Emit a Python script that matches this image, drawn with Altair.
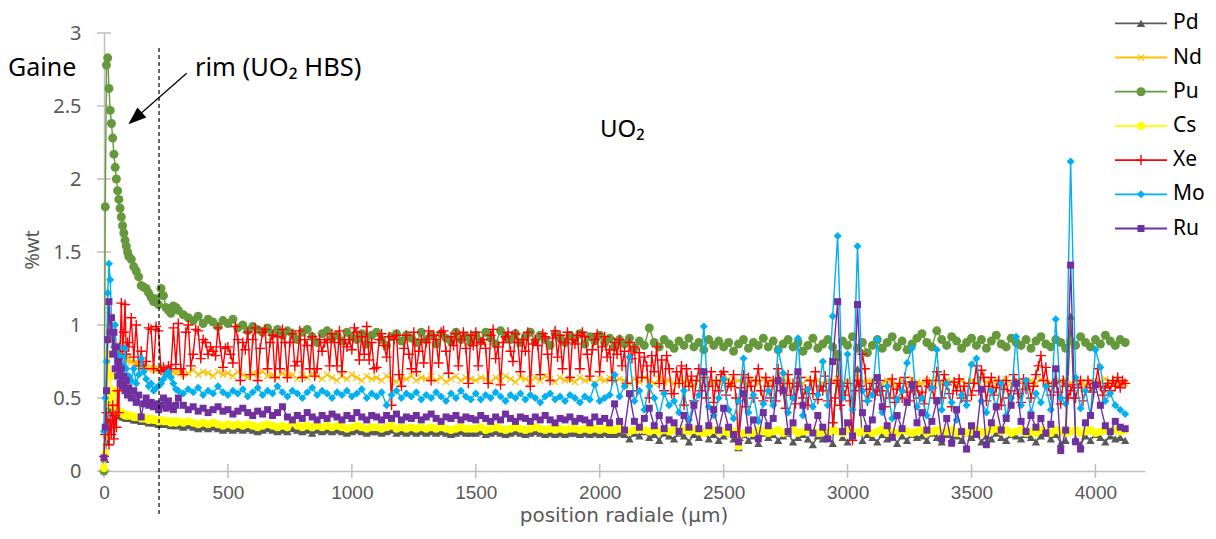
import altair as alt
import pandas as pd

# ---------------- data ----------------
names = ["Pd", "Nd", "Pu", "Cs", "Xe", "Mo", "Ru"]
colors = ["#595959", "#FFC000", "#66993C", "#FFFF00", "#FF0000", "#00B0F0", "#7030A0"]

# sampling positions (µm): 0-95 step 5, 100-290 step 10, then from 300 with a regular step
pos_a = list(range(0, 100, 5))
pos_b = list(range(100, 300, 10))
pos_c_start = 300
steps = {"Pd": 20, "Nd": 20, "Pu": 20, "Cs": 20, "Xe": 10, "Mo": 20, "Ru": 20}

pd_vals = [
    0.02, 0.08, 0.20, 0.35, 0.50, 0.45, 0.42, 0.40, 0.45, 0.40, 0.40, 0.38, 0.39, 0.38, 0.38, 0.37, 0.37, 0.37, 0.36, 0.36,
    0.36, 0.36, 0.35, 0.35, 0.35, 0.34, 0.34, 0.34, 0.33, 0.34, 0.33, 0.33, 0.32, 0.33, 0.32, 0.32, 0.32, 0.31, 0.32, 0.31,
    0.31, 0.30, 0.31, 0.30, 0.29, 0.30, 0.29, 0.30, 0.29, 0.28,
    0.29, 0.28, 0.29, 0.28, 0.29, 0.28, 0.27, 0.28, 0.29, 0.28,
    0.27, 0.28, 0.27, 0.29, 0.28, 0.27, 0.28, 0.26, 0.28, 0.27,
    0.28, 0.27, 0.28, 0.27, 0.26, 0.27, 0.28, 0.27, 0.26, 0.27,
    0.27, 0.26, 0.27, 0.28, 0.26, 0.27, 0.26, 0.27, 0.26, 0.27,
    0.26, 0.27, 0.26, 0.27, 0.26, 0.25, 0.26, 0.27, 0.26, 0.26,
    0.26, 0.27, 0.25, 0.26, 0.27, 0.26, 0.25, 0.26, 0.27, 0.26,
    0.25, 0.26, 0.27, 0.26, 0.25, 0.26, 0.25, 0.26, 0.25, 0.26,
    0.26, 0.25, 0.26, 0.25, 0.26, 0.25, 0.26, 0.25, 0.25, 0.26,
    0.25, 0.22, 0.26, 0.24, 0.27, 0.23, 0.25, 0.21, 0.26, 0.24,
    0.22, 0.26, 0.24, 0.20, 0.25, 0.23, 0.27, 0.22, 0.25, 0.21,
    0.24, 0.26, 0.22, 0.16, 0.25, 0.21, 0.24, 0.19, 0.26, 0.23,
    0.25, 0.21, 0.24, 0.26, 0.20, 0.23, 0.25, 0.22, 0.18, 0.24,
    0.22, 0.25, 0.19, 0.78, 0.23, 0.20, 0.24, 0.70, 0.21, 0.25,
    0.23, 0.20, 0.25, 0.22, 0.26, 0.19, 0.24, 0.21, 0.25, 0.23,
    0.24, 0.21, 0.26, 0.23, 0.20, 0.25, 0.22, 0.24, 0.21, 0.26,
    0.23, 0.25, 0.20, 0.24, 0.22, 0.26, 0.23, 0.21, 0.25, 0.24,
    0.22, 0.25, 0.23, 0.20, 0.24, 0.26, 0.22, 0.25, 0.19, 0.21,
    1.06, 0.22, 0.18, 0.24, 0.21, 0.25, 0.23, 0.20, 0.24, 0.22,
    0.23, 0.21,
]

nd_vals = [
    0.05, 0.25, 0.55, 0.80, 1.10, 1.00, 0.95, 0.90, 0.88, 0.86, 0.84, 0.85, 0.82, 0.80, 0.81, 0.79, 0.78, 0.77, 0.76, 0.77,
    0.76, 0.75, 0.74, 0.74, 0.73, 0.72, 0.72, 0.71, 0.70, 0.71, 0.70, 0.69, 0.70, 0.69, 0.68, 0.69, 0.68, 0.67, 0.68, 0.67,
    0.68, 0.66, 0.67, 0.69, 0.66, 0.68, 0.67, 0.65, 0.68, 0.66,
    0.67, 0.65, 0.68, 0.66, 0.64, 0.67, 0.66, 0.68, 0.65, 0.66,
    0.64, 0.67, 0.65, 0.66, 0.63, 0.66, 0.64, 0.67, 0.65, 0.63,
    0.66, 0.64, 0.62, 0.65, 0.63, 0.66, 0.64, 0.62, 0.65, 0.63,
    0.64, 0.62, 0.65, 0.63, 0.61, 0.64, 0.63, 0.65, 0.62, 0.64,
    0.63, 0.65, 0.62, 0.64, 0.61, 0.63, 0.65, 0.62, 0.64, 0.63,
    0.62, 0.64, 0.63, 0.61, 0.64, 0.62, 0.65, 0.63, 0.61, 0.64,
    0.63, 0.61, 0.64, 0.62, 0.65, 0.63, 0.61, 0.64, 0.62, 0.63,
    0.61, 0.64, 0.62, 0.63, 0.60, 0.63, 0.62, 0.64, 0.61, 0.63,
    0.62, 0.60, 0.63, 0.61, 0.64, 0.62, 0.60, 0.63, 0.61, 0.62,
    0.60, 0.63, 0.61, 0.62, 0.59, 0.62, 0.64, 0.61, 0.60, 0.62,
    0.61, 0.63, 0.60, 0.62, 0.61, 0.59, 0.62, 0.60, 0.63, 0.61,
    0.62, 0.60, 0.63, 0.61, 0.59, 0.62, 0.60, 0.63, 0.61, 0.62,
    0.60, 0.62, 0.61, 0.63, 0.60, 0.62, 0.59, 0.64, 0.61, 0.62,
    0.61, 0.63, 0.60, 0.62, 0.61, 0.59, 0.62, 0.60, 0.63, 0.61,
    0.60, 0.62, 0.61, 0.63, 0.60, 0.62, 0.61, 0.59, 0.62, 0.60,
    0.62, 0.60, 0.63, 0.61, 0.60, 0.62, 0.61, 0.63, 0.60, 0.62,
    0.61, 0.59, 0.62, 0.60, 0.63, 0.61, 0.60, 0.62, 0.61, 0.63,
    0.60, 0.62, 0.61, 0.59, 0.62, 0.60, 0.61, 0.63, 0.60, 0.62,
    0.61, 0.60,
]

pu_vals = [
    0.00, 1.81, 2.78, 2.83, 2.62, 2.47, 2.38, 2.28, 2.17, 2.08, 2.00, 1.92, 1.86, 1.80, 1.74, 1.68, 1.63, 1.58, 1.54, 1.50,
    1.47, 1.45, 1.40, 1.37, 1.33, 1.27, 1.26, 1.25, 1.22, 1.19, 1.16, 1.18, 1.14, 1.25, 1.20, 1.12, 1.10, 1.08, 1.13, 1.12,
    1.10, 1.07, 1.05, 1.03, 1.06, 1.01, 1.04, 1.02, 0.99, 1.03,
    1.01, 1.04, 0.98, 1.00, 0.96, 0.99, 0.97, 0.95, 0.98, 0.94,
    0.97, 0.93, 0.96, 0.94, 0.90, 0.95, 0.97, 0.92, 0.88, 0.94,
    0.96, 0.91, 0.93, 0.89, 0.95, 0.92, 0.90, 0.94, 0.87, 0.93,
    0.95, 0.90, 0.86, 0.92, 0.94, 0.89, 0.93, 0.91, 0.88, 0.95,
    0.90, 0.93, 0.87, 0.94, 0.91, 0.89, 0.95, 0.90, 0.92, 0.88,
    0.93, 0.89, 0.95, 0.91, 0.87, 0.96, 0.92, 0.90, 0.94, 0.88,
    0.92, 0.95, 0.89, 0.93, 0.90, 0.86, 0.94, 0.91, 0.88, 0.93,
    0.90, 0.94, 0.87, 0.92, 0.89, 0.93, 0.88, 0.91, 0.85, 0.90,
    0.87, 0.91, 0.84, 0.89, 0.86, 0.98, 0.88, 0.85, 0.90, 0.87,
    0.84, 0.89, 0.86, 0.91, 0.85, 0.88, 0.83, 0.90, 0.86, 0.89,
    0.85, 0.88, 0.82, 0.87, 0.90, 0.84, 0.88, 0.86, 0.91, 0.85,
    0.89, 0.83, 0.87, 0.90, 0.85, 0.88, 0.82, 0.86, 0.91, 0.84,
    0.87, 0.90, 0.85, 0.80, 0.89, 0.86, 0.92, 0.84, 0.88, 0.81,
    0.86, 0.90, 0.84, 0.88, 0.92, 0.85, 0.89, 0.83, 0.87, 0.91,
    0.94, 0.88, 0.85, 0.96, 0.90, 0.86, 0.92, 0.89, 0.84, 0.88,
    0.91, 0.86, 0.90, 0.84, 0.89, 0.93, 0.87, 0.85, 0.91, 0.88,
    0.86, 0.90, 0.84, 0.89, 0.92, 0.87, 0.85, 0.90, 0.88, 0.84,
    0.89, 0.86, 0.92, 0.88, 0.85, 0.90, 0.87, 0.93, 0.89, 0.86,
    0.90, 0.88,
]

cs_vals = [
    0.02, 0.12, 0.30, 0.55, 0.80, 0.65, 0.50, 0.45, 0.55, 0.42, 0.44, 0.40, 0.41, 0.40, 0.40, 0.39, 0.39, 0.38, 0.38, 0.38,
    0.38, 0.38, 0.37, 0.37, 0.37, 0.36, 0.36, 0.36, 0.35, 0.36, 0.35, 0.35, 0.34, 0.35, 0.34, 0.34, 0.34, 0.33, 0.34, 0.33,
    0.34, 0.33, 0.34, 0.33, 0.32, 0.33, 0.32, 0.33, 0.32, 0.31,
    0.32, 0.31, 0.32, 0.31, 0.32, 0.31, 0.30, 0.31, 0.32, 0.31,
    0.30, 0.31, 0.30, 0.33, 0.31, 0.30, 0.31, 0.30, 0.31, 0.30,
    0.31, 0.30, 0.31, 0.30, 0.29, 0.30, 0.31, 0.30, 0.29, 0.30,
    0.30, 0.29, 0.30, 0.31, 0.29, 0.30, 0.29, 0.30, 0.29, 0.30,
    0.29, 0.30, 0.29, 0.30, 0.29, 0.28, 0.29, 0.30, 0.29, 0.29,
    0.29, 0.30, 0.28, 0.29, 0.30, 0.29, 0.28, 0.29, 0.30, 0.29,
    0.28, 0.29, 0.30, 0.29, 0.28, 0.29, 0.28, 0.29, 0.28, 0.29,
    0.29, 0.28, 0.29, 0.28, 0.29, 0.28, 0.29, 0.28, 0.28, 0.29,
    0.28, 0.27, 0.28, 0.29, 0.28, 0.27, 0.28, 0.27, 0.28, 0.27,
    0.28, 0.27, 0.28, 0.27, 0.28, 0.27, 0.26, 0.27, 0.28, 0.27,
    0.27, 0.26, 0.27, 0.17, 0.26, 0.27, 0.26, 0.28, 0.27, 0.26,
    0.27, 0.28, 0.26, 0.27, 0.28, 0.26, 0.27, 0.28, 0.27, 0.26,
    0.27, 0.26, 0.28, 0.27, 0.26, 0.28, 0.27, 0.26, 0.27, 0.28,
    0.26, 0.27, 0.28, 0.26, 0.27, 0.26, 0.28, 0.27, 0.26, 0.27,
    0.28, 0.26, 0.27, 0.28, 0.26, 0.27, 0.28, 0.26, 0.27, 0.26,
    0.27, 0.28, 0.26, 0.27, 0.28, 0.29, 0.27, 0.28, 0.26, 0.27,
    0.28, 0.26, 0.27, 0.26, 0.28, 0.27, 0.26, 0.28, 0.27, 0.26,
    0.27, 0.28, 0.26, 0.27, 0.28, 0.26, 0.27, 0.28, 0.27, 0.28,
    0.27, 0.28,
]

# Xe: read at 10 µm spacing after 300 µm (rows of 200 µm)
xe_vals = [
    0.10, 0.25, 0.40, 0.30, 0.18, 0.35, 0.25, 0.45, 0.22, 0.38, 0.30, 0.55, 0.40, 0.85, 1.15, 0.82, 0.95, 1.14, 0.80, 0.88,
    0.85, 1.05, 0.78, 1.00, 0.72, 0.82, 0.70, 0.75, 0.98, 0.97, 0.70, 0.99, 0.96, 0.69, 0.71, 0.68, 0.72, 0.70, 0.98, 0.73,
    1.01, 0.70, 0.66, 0.95, 1.00, 0.72, 0.80, 0.97, 0.96, 0.77, 0.90, 0.88, 0.80, 0.85, 0.82, 0.79, 0.98, 0.85, 0.71, 0.84,
    0.85, 0.80, 0.74, 0.99, 0.90, 0.62, 0.88, 0.83, 0.95, 0.66, 0.90, 0.98, 0.62, 0.84, 0.95, 0.97, 0.70, 0.88, 0.93, 0.64,
    0.92, 0.70, 0.97, 0.88, 0.64, 0.88, 0.94, 0.72, 0.75, 0.96, 0.64, 0.90, 0.86, 0.70, 0.92, 0.65, 0.70, 0.90, 0.82, 0.88,
    0.90, 0.72, 0.94, 0.88, 0.72, 0.96, 0.68, 0.90, 0.85, 0.90, 0.83, 0.98, 0.95, 0.76, 0.92, 0.80, 0.99, 0.76, 0.88, 0.70,
    0.71, 0.90, 0.94, 0.86, 0.78, 0.92, 0.45, 0.90, 0.93, 0.66, 0.58, 0.84, 0.93, 0.80, 0.70, 0.95, 0.68, 0.82, 0.90, 0.74,
    0.88, 0.96, 0.62, 0.93, 0.90, 0.74, 0.95, 0.96, 0.82, 0.67, 0.92, 0.86, 0.94, 0.72, 0.90, 0.95, 0.84, 0.60, 0.93, 0.86,
    0.95, 0.72, 0.88, 0.90, 0.84, 0.60, 0.93, 0.97, 0.77, 0.85, 0.59, 0.88, 0.92, 0.95, 0.82, 0.75, 0.94, 0.88, 0.68, 0.90,
    0.82, 0.95, 0.58, 0.87, 0.90, 0.86, 0.66, 0.94, 0.92, 0.80, 0.62, 0.91, 0.96, 0.78, 0.93, 0.70, 0.88, 0.95, 0.64, 0.90,
    0.87, 0.93, 0.70, 0.95, 0.92, 0.80, 0.65, 0.83, 0.90, 0.94, 0.68, 0.85, 0.92, 0.78, 0.83, 0.62, 0.88, 0.80, 0.90, 0.72,
    0.82, 0.60, 0.88, 0.77, 0.85, 0.55, 0.81, 0.64, 0.78, 0.72, 0.50, 0.79, 0.68, 0.85, 0.60, 0.76, 0.55, 0.79, 0.70, 0.53,
    0.53, 0.68, 0.60, 0.72, 0.45, 0.70, 0.58, 0.65, 0.48, 0.62, 0.70, 0.55, 0.64, 0.50, 0.58, 0.68, 0.47, 0.62, 0.55, 0.66,
    0.68, 0.52, 0.60, 0.58, 0.66, 0.50, 0.21, 0.57, 0.66, 0.44, 0.64, 0.58, 0.50, 0.62, 0.70, 0.55, 0.48, 0.64, 0.58, 0.50,
    0.62, 0.48, 0.70, 0.55, 0.60, 0.43, 0.66, 0.52, 0.60, 0.46, 0.58, 0.64, 0.50, 0.56, 0.45, 0.62, 0.53, 0.68, 0.49, 0.58,
    0.55, 0.65, 0.48, 0.60, 0.33, 0.50, 0.62, 0.45, 0.58, 0.52, 0.60, 0.48, 0.21, 0.55, 0.62, 0.58, 0.80, 0.70, 0.48, 0.56,
    0.60, 0.52, 0.55, 0.62, 0.55, 0.44, 0.58, 0.50, 0.63, 0.47, 0.56, 0.60, 0.50, 0.64, 0.54, 0.48, 0.61, 0.55, 0.58, 0.50,
    0.54, 0.46, 0.62, 0.58, 0.57, 0.50, 0.68, 0.62, 0.50, 0.66, 0.59, 0.53, 0.44, 0.61, 0.55, 0.63, 0.50, 0.58, 0.48, 0.60,
    0.52, 0.60, 0.72, 0.55, 0.69, 0.64, 0.48, 0.58, 0.64, 0.52, 0.57, 0.62, 0.45, 0.56, 0.62, 0.50, 0.55, 0.66, 0.60, 0.53,
    0.47, 0.63, 0.56, 0.60, 0.50, 0.58, 0.66, 0.72, 0.79, 0.62, 0.71, 0.58, 0.52, 0.60, 0.61, 0.54, 0.46, 0.62, 0.58, 0.50,
    0.55, 0.59, 0.50, 0.57, 0.62, 0.48, 0.55, 0.62, 0.57, 0.54, 0.60, 0.70, 0.58, 0.52, 0.57, 0.60, 0.55, 0.62, 0.58, 0.64,
    0.57, 0.62, 0.60,
]

mo_vals = [
    0.27, 0.50, 0.75, 1.22, 1.42, 1.31, 1.05, 0.95, 0.85, 1.00, 0.80, 0.75, 0.85, 0.70, 0.78, 0.66, 0.72, 0.84, 0.70, 0.63,
    0.65, 0.62, 0.70, 0.60, 0.66, 0.77, 0.68, 0.63, 0.58, 0.60, 0.55, 0.57, 0.58, 0.60, 0.63, 0.66, 0.68, 0.64, 0.60, 0.56,
    0.55, 0.53, 0.56, 0.54, 0.57, 0.52, 0.55, 0.53, 0.58, 0.54,
    0.52, 0.55, 0.53, 0.56, 0.51, 0.54, 0.57, 0.52, 0.55, 0.53,
    0.58, 0.54, 0.51, 0.55, 0.53, 0.50, 0.54, 0.57, 0.52, 0.55,
    0.53, 0.50, 0.54, 0.52, 0.55, 0.51, 0.53, 0.56, 0.50, 0.53,
    0.51, 0.54, 0.45, 0.52, 0.55, 0.50, 0.53, 0.51, 0.54, 0.49,
    0.52, 0.50, 0.54, 0.51, 0.48, 0.53, 0.50, 0.55, 0.51, 0.49,
    0.53, 0.49, 0.52, 0.50, 0.54, 0.51, 0.48, 0.52, 0.50, 0.53,
    0.49, 0.52, 0.50, 0.47, 0.51, 0.53, 0.49, 0.51, 0.48, 0.52,
    0.50, 0.47, 0.51, 0.49, 0.59, 0.48, 0.50, 0.52, 0.66, 0.51,
    0.58, 0.78, 0.48, 0.55, 0.42, 0.58, 0.50, 0.38, 0.53, 0.45,
    0.48, 0.40, 0.55, 0.35, 0.47, 0.52, 0.99, 0.44, 0.38, 0.50,
    0.63, 0.42, 0.36, 0.48, 0.77, 0.40, 0.52, 0.34, 0.46, 0.55,
    0.45, 0.83, 0.67, 0.40, 0.50, 0.91, 0.38, 0.56, 0.44, 0.52,
    0.75, 0.45, 1.06, 1.61, 0.50, 0.80, 0.42, 1.54, 0.55, 0.48,
    0.52, 0.90, 0.40, 0.58, 0.36, 0.49, 0.55, 0.74, 0.84, 0.44,
    0.50, 0.38, 0.57, 0.83, 0.42, 0.60, 0.47, 0.35, 0.52, 0.45,
    0.73, 0.77, 0.48, 0.40, 0.55, 0.44, 0.60, 0.38, 0.50, 0.92,
    0.45, 0.62, 0.40, 0.53, 0.47, 0.58, 0.42, 1.04, 0.50, 0.46,
    2.12, 0.64, 0.43, 0.55, 0.38, 0.83, 0.71, 0.48, 0.53, 0.45,
    0.42, 0.39,
]

ru_vals = [
    0.09, 0.30, 0.55, 0.90, 1.16, 0.95, 1.05, 0.80, 0.95, 0.70, 0.85, 0.65, 0.75, 0.60, 0.70, 0.58, 0.65, 0.55, 0.62, 0.52,
    0.57, 0.50, 0.55, 0.47, 0.52, 0.37, 0.46, 0.50, 0.45, 0.47, 0.44, 0.46, 0.42, 0.45, 0.50, 0.43, 0.48, 0.44, 0.42, 0.45,
    0.50, 0.45, 0.42, 0.44, 0.41, 0.43, 0.40, 0.42, 0.44, 0.41,
    0.42, 0.39, 0.41, 0.43, 0.40, 0.38, 0.41, 0.39, 0.42, 0.38,
    0.40, 0.44, 0.37, 0.35, 0.38, 0.36, 0.40, 0.37, 0.35, 0.38,
    0.36, 0.39, 0.37, 0.35, 0.38, 0.36, 0.40, 0.37, 0.35, 0.38,
    0.37, 0.35, 0.38, 0.36, 0.39, 0.35, 0.37, 0.36, 0.38, 0.35,
    0.37, 0.39, 0.36, 0.34, 0.37, 0.36, 0.38, 0.35, 0.37, 0.36,
    0.35, 0.38, 0.36, 0.34, 0.37, 0.35, 0.39, 0.36, 0.34, 0.37,
    0.36, 0.34, 0.37, 0.35, 0.38, 0.35, 0.33, 0.36, 0.35, 0.37,
    0.34, 0.36, 0.35, 0.33, 0.37, 0.34, 0.36, 0.33, 0.46, 0.34,
    0.28, 0.53, 0.34, 0.30, 0.36, 0.43, 0.31, 0.38, 0.29, 0.35,
    0.33, 0.27, 0.38, 0.30, 0.45, 0.29, 0.68, 0.31, 0.42, 0.28,
    0.43, 0.30, 0.25, 0.20, 0.53, 0.28, 0.35, 0.22, 0.40, 0.31,
    0.36, 0.62, 0.55, 0.27, 0.33, 0.68, 0.45, 0.30, 0.26, 0.38,
    0.30, 0.22, 0.75, 1.16, 0.27, 0.33, 0.24, 1.14, 0.40, 0.29,
    0.35, 0.64, 0.44, 0.31, 0.23, 0.38, 0.29, 0.47, 0.59, 0.33,
    0.40, 0.28, 0.34, 0.48, 0.22, 0.36, 0.19, 0.42, 0.27, 0.15,
    0.31, 0.25, 0.56, 0.18, 0.33, 0.44, 0.28, 0.36, 0.45, 0.60,
    0.34, 0.27, 0.38, 0.30, 0.36, 0.26, 0.32, 0.70, 0.14, 0.28,
    1.41, 0.20, 0.15, 0.33, 0.38, 0.59, 0.45, 0.31, 0.27, 0.34,
    0.30, 0.29,
]

series_values = [pd_vals, nd_vals, pu_vals, cs_vals, xe_vals, mo_vals, ru_vals]

x_ticks = [0, 500, 1000, 1500, 2000, 2500, 3000, 3500, 4000]
y_ticks = [0, 0.5, 1, 1.5, 2, 2.5, 3]
rim_boundary = [222]


def positions(n, step):
    k = n - len(pos_a) - len(pos_b)
    return pos_a + pos_b + [pos_c_start + step * i for i in range(k)]


rows = []
for name, vals in zip(names, series_values):
    for xv, yv in zip(positions(len(vals), steps[name]), vals):
        rows.append({"x": xv, "y": yv, "s": name})
df = pd.DataFrame(rows)

# ---------------- styles ----------------
FONT = "Noto Sans"
FONT_X = "Liberation Sans"
FONT_XT = "DejaVu Sans"
AX_GRAY = "#BFBFBF"
W, H = 1041, 438

marker = {
    "Pd": dict(shape="triangle-up", size=70, filled=True),
    "Nd": dict(shape="M-1,-1L1,1M-1,1L1,-1", size=40, filled=False, strokeWidth=1.2),
    "Pu": dict(shape="circle", size=81, filled=True),
    "Cs": dict(shape="circle", size=64, filled=True),
    "Xe": dict(shape="M-1,0L1,0M0,-1L0,1", size=100, filled=False, strokeWidth=1.4),
    "Mo": dict(shape="diamond", size=64, filled=True),
    "Ru": dict(shape="square", size=49, filled=True),
}

xscale = alt.Scale(domain=[0, 4200], nice=False, zero=False)
yscale = alt.Scale(domain=[0, 3], nice=False, zero=True)
xaxis = alt.Axis(values=x_ticks, format="d", title=None, grid=False, ticks=False, tickSize=0,
                 domainColor=AX_GRAY, domainWidth=1.5, labelFont=FONT_X, labelFontSize=19,
                 labelColor="#595959", labelPadding=12, labelFlush=False, labelOverlap=False)
yaxis = alt.Axis(values=y_ticks, format="~g", title=None, grid=False, ticks=False, tickSize=0,
                 domainColor=AX_GRAY, domainWidth=1.5, labelFont=FONT, labelFontSize=20,
                 labelColor="#595959", labelPadding=23, labelFlush=False)
X = alt.X("x:Q", scale=xscale, axis=xaxis)
Y = alt.Y("y:Q", scale=yscale, axis=yaxis)

layers = []

# crossing tick marks
layers.append(
    alt.Chart(alt.Data(values=[{"x": v} for v in x_ticks]))
    .mark_rule(color=AX_GRAY, strokeWidth=1.5)
    .encode(x=X, y=alt.value(H - 7), y2=alt.value(H + 7))
)
layers.append(
    alt.Chart(alt.Data(values=[{"y": v} for v in y_ticks]))
    .mark_rule(color=AX_GRAY, strokeWidth=1.5)
    .encode(y=Y, x=alt.value(-7), x2=alt.value(7))
)

# series: line + markers, in Excel order
for name, col in zip(names, colors):
    base = alt.Chart(df).transform_filter(alt.datum.s == name)
    layers.append(base.mark_line(color=col, strokeWidth=1.4).encode(x=X, y=Y))
    m = marker[name]
    if m["filled"]:
        pt = base.mark_point(shape=m["shape"], size=m["size"], filled=True, color=col, opacity=1)
    else:
        pt = base.mark_point(shape=m["shape"], size=m["size"], filled=False, color=col,
                             strokeWidth=m["strokeWidth"], opacity=1)
    layers.append(pt.encode(x=X, y=Y))

one = alt.Data(values=[{"k": 0}])

# dashed rim boundary
layers.append(
    alt.Chart(alt.Data(values=[{"x": v} for v in rim_boundary]))
    .mark_rule(color="black", strokeWidth=1.2, strokeDash=[4, 3])
    .encode(x=X, y=alt.value(15), y2=alt.value(482))
)

# arrow
layers.append(
    alt.Chart(one).mark_rule(color="black", strokeWidth=1.3)
    .encode(x=alt.value(82.7), y=alt.value(40.3), x2=alt.value(31.1), y2=alt.value(85.4))
)
layers.append(
    alt.Chart(one).mark_point(shape="M0,-1L0.75,1L-0.75,1Z", size=324, filled=True,
                              color="black", opacity=1, angle=228.8)
    .encode(x=alt.value(31.1), y=alt.value(85.4))
)


# annotations
def label(txt, x, y, size, color="black", align="left", angle=0, baseline="middle", font=FONT):
    kw = dict(text=txt, font=font, fontSize=size, color=color, align=align, baseline=baseline)
    if angle:
        kw["angle"] = angle
    return alt.Chart(one).mark_text(**kw).encode(x=alt.value(x), y=alt.value(y))


layers.append(label("Gaine", -96, 35, 25))
layers.append(label("rim (UO₂ HBS)", 91, 35, 25.5))
layers.append(label("UO₂", 496, 97, 24))
layers.append(label("%wt", -71, 217, 20, color="#595959", align="center", angle=270))
layers.append(label("position radiale (µm)", 520, 488.5, 20, color="#595959", align="center",
                    baseline="alphabetic", font=FONT_XT))

# legend
for i, (name, col) in enumerate(zip(names, colors)):
    py = -9.7 + 34.2 * i
    layers.append(
        alt.Chart(one).mark_rule(color=col, strokeWidth=1.8)
        .encode(x=alt.value(1011), x2=alt.value(1063), y=alt.value(py))
    )
    m = marker[name]
    if m["filled"]:
        pt = alt.Chart(one).mark_point(shape=m["shape"], size=m["size"], filled=True, color=col, opacity=1)
    else:
        pt = alt.Chart(one).mark_point(shape=m["shape"], size=m["size"], filled=False, color=col,
                                       strokeWidth=m["strokeWidth"], opacity=1)
    layers.append(pt.encode(x=alt.value(1037), y=alt.value(py)))
    layers.append(label(name, 1069, py, 21))

chart = (
    alt.layer(*layers)
    .properties(width=W, height=H,
                autosize=alt.AutoSizeParams(type="none"),
                padding={"left": 96, "top": 25, "right": 63, "bottom": 55})
    .configure_view(stroke=None)
)

chart.save("out.html", embed_options={"renderer": "svg", "actions": False})
